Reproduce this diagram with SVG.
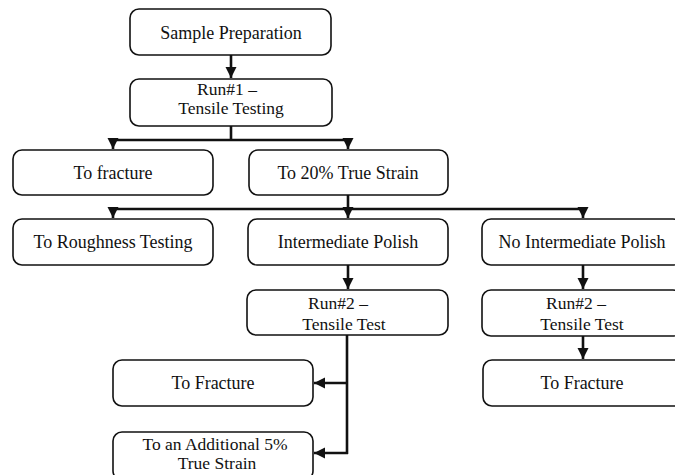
<svg xmlns="http://www.w3.org/2000/svg" width="675" height="475" viewBox="0 0 675 475">
  <style>
    .box { fill: #ffffff; stroke: #111111; stroke-width: 1.6; }
    .lbl { font-size: 18px; fill: #111111; text-anchor: middle; }
    .lbl2 { font-size: 17.5px; fill: #111111; text-anchor: middle; }
    .wire { fill: none; stroke: #111111; stroke-width: 2.6; }
    .arr { marker-end: url(#head); }
  </style>
  <defs>
    <marker id="head" markerUnits="userSpaceOnUse" markerWidth="12" markerHeight="12" viewBox="0 0 12 12" refX="11" refY="6" orient="auto">
      <path d="M0,0.5 L11,6 L0,11.5 Z" fill="#111111"/>
    </marker>
  </defs>

  <rect width="675" height="475" fill="#ffffff"/>

  <!-- connectors -->
  <g id="connectors">
    <path class="wire arr" d="M231,55 V78"/>
    <path class="wire" d="M231,126 V140 M113,140 H348"/>
    <path class="wire arr" d="M113,139 V149"/>
    <path class="wire arr" d="M348,139 V149"/>
    <path class="wire" d="M348,195 V209 M113,209 H583"/>
    <path class="wire arr" d="M113,208 V218"/>
    <path class="wire arr" d="M348,208 V218"/>
    <path class="wire arr" d="M583,208 V218"/>
    <path class="wire arr" d="M348,265 V289"/>
    <path class="wire" d="M347,335 V454"/>
    <path class="wire arr" d="M348,383 H314"/>
    <path class="wire arr" d="M348,453 H314"/>
    <path class="wire arr" d="M583,265 V289"/>
    <path class="wire arr" d="M583,336 V359"/>
  </g>

  <!-- all labels use a Times-metric serif face -->
  <g font-family="'Liberation Serif', 'Times New Roman', 'DejaVu Serif', serif">
    <g id="sample-preparation">
      <rect class="box" x="130" y="9" width="201" height="46" rx="9"/>
      <text class="lbl" x="231" y="39">Sample Preparation</text>
    </g>

    <g id="run1">
      <rect class="box" x="130" y="79" width="202" height="47" rx="9"/>
      <text class="lbl2" x="227" y="95">Run#1 –</text>
      <text class="lbl2" x="231" y="114">Tensile Testing</text>
    </g>

    <g id="to-fracture-1">
      <rect class="box" x="13" y="150" width="200" height="45" rx="9"/>
      <text class="lbl" x="113" y="179">To fracture</text>
    </g>

    <g id="to-20-true-strain">
      <rect class="box" x="249" y="150" width="199" height="45" rx="9"/>
      <text class="lbl" x="348" y="179">To 20% True Strain</text>
    </g>

    <g id="roughness-testing">
      <rect class="box" x="13" y="219" width="200" height="46" rx="9"/>
      <text class="lbl" x="113" y="248">To Roughness Testing</text>
    </g>

    <g id="intermediate-polish">
      <rect class="box" x="248" y="219" width="200" height="46" rx="9"/>
      <text class="lbl" x="348" y="248">Intermediate Polish</text>
    </g>

    <g id="no-intermediate-polish">
      <rect class="box" x="482" y="219" width="200" height="46" rx="9"/>
      <text class="lbl" x="582" y="248">No Intermediate Polish</text>
    </g>

    <g id="run2-polished">
      <rect class="box" x="247" y="290" width="201" height="45" rx="9"/>
      <text class="lbl2" x="338" y="309">Run#2 –</text>
      <text class="lbl2" x="344" y="330">Tensile Test</text>
    </g>

    <g id="run2-unpolished">
      <rect class="box" x="482" y="290" width="200" height="46" rx="9"/>
      <text class="lbl2" x="576" y="309">Run#2 –</text>
      <text class="lbl2" x="582" y="330">Tensile Test</text>
    </g>

    <g id="to-fracture-2">
      <rect class="box" x="113" y="360" width="200" height="46" rx="9"/>
      <text class="lbl" x="213" y="389">To Fracture</text>
    </g>

    <g id="additional-5-strain">
      <rect class="box" x="113" y="432" width="200" height="48" rx="9"/>
      <text class="lbl2" x="215" y="450">To an Additional 5%</text>
      <text class="lbl2" x="217" y="469">True Strain</text>
    </g>

    <g id="to-fracture-3">
      <rect class="box" x="483" y="360" width="200" height="46" rx="9"/>
      <text class="lbl" x="582" y="389">To Fracture</text>
    </g>
  </g>
</svg>
